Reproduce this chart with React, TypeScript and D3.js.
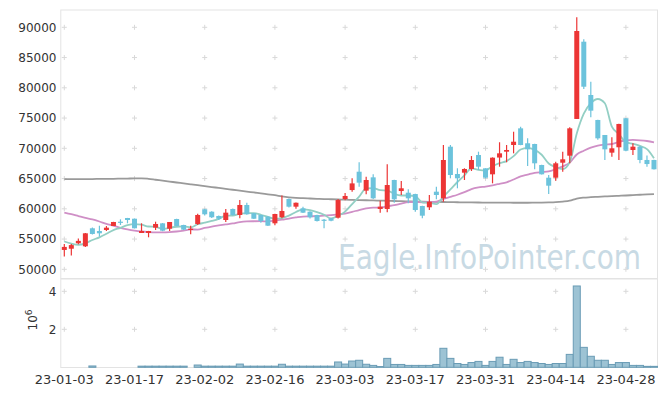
import React from "react";
import * as d3 from "d3";

// ---- data ----
const dates = [
  "2023-01-03","2023-01-04","2023-01-05","2023-01-06","2023-01-09","2023-01-10","2023-01-11","2023-01-12","2023-01-13","2023-01-16",
  "2023-01-17","2023-01-18","2023-01-19","2023-01-20","2023-01-25","2023-01-26","2023-01-27","2023-01-30","2023-01-31","2023-02-01",
  "2023-02-02","2023-02-03","2023-02-06","2023-02-07","2023-02-08","2023-02-09","2023-02-10","2023-02-13","2023-02-14","2023-02-15",
  "2023-02-16","2023-02-17","2023-02-20","2023-02-21","2023-02-22","2023-02-23","2023-02-24","2023-02-27","2023-02-28","2023-03-02",
  "2023-03-03","2023-03-06","2023-03-07","2023-03-08","2023-03-09","2023-03-10","2023-03-13","2023-03-14","2023-03-15","2023-03-16",
  "2023-03-17","2023-03-20","2023-03-21","2023-03-22","2023-03-23","2023-03-24","2023-03-27","2023-03-28","2023-03-29","2023-03-30",
  "2023-03-31","2023-04-03","2023-04-04","2023-04-05","2023-04-06","2023-04-07","2023-04-10","2023-04-11","2023-04-12","2023-04-13",
  "2023-04-14","2023-04-17","2023-04-18","2023-04-19","2023-04-20","2023-04-21","2023-04-24","2023-04-25","2023-04-26","2023-04-27",
  "2023-04-28","2023-05-02","2023-05-03","2023-05-04","2023-05-08",
];

const open = [
  53200,53400,54300,53800,56780,56330,56500,57160,57870,58480,
  58360,56000,56000,56880,57600,56710,58310,57320,56500,57490,
  59920,59520,58810,58150,59970,58980,60630,59260,58980,58700,
  57600,58600,61620,60350,60080,59520,58980,58200,58430,58530,
  61620,63100,66130,63000,65200,59970,59970,64760,62940,62660,
  62440,60460,60250,62830,61735,70265,65750,65970,66580,68890,
  66690,65700,68470,69440,70546,73300,70830,70710,67240,65140,
  65140,67620,68780,74850,87620,78810,74680,72200,69280,70170,
  74960,69720,70270,68070,68070,
];

const high = [
  54200,54200,55100,56000,56900,57200,57150,57850,58260,58500,
  58400,57600,56350,57870,57650,57820,58350,57350,57210,59190,
  60000,59600,58900,59960,60050,61450,61000,59300,59000,58750,
  59200,62200,61700,61050,60350,59600,59000,58300,58500,61600,
  62600,65040,67690,65300,65700,61340,67355,64800,64600,63220,
  62500,60500,62280,63650,70546,70546,66700,66700,68720,69440,
  66700,68500,71000,70546,72740,73580,71650,70750,67300,65590,
  67790,69440,73470,91650,88020,81010,74700,72200,71820,74050,
  75000,70830,70400,68800,68100,
];

const low = [
  52100,52300,54150,53700,55750,55400,56330,57150,57320,57600,
  56750,56000,55290,56500,56300,56330,57100,56500,55790,57320,
  58900,58500,58150,57800,58900,58430,59000,58300,57700,57150,
  57300,58430,60200,60000,59300,58400,57900,56780,57950,58400,
  61400,62830,63650,62400,61600,59360,59420,61000,62280,60900,
  59500,58430,59800,61570,61170,65040,63390,64760,66250,66410,
  65000,64210,66960,67690,69170,70500,67070,66530,65650,62450,
  64650,66130,67520,74840,79800,75120,71400,68070,68610,68070,
  69500,68890,67520,66960,66500,
];

const close = [
  53700,54000,54700,55950,55840,55950,56880,57820,57770,58150,
  56780,56330,56330,57490,56380,57820,57160,56550,56710,58980,
  59090,58600,58360,59360,58980,60630,59090,58360,57980,57210,
  59140,59640,60350,61000,59360,58600,57980,58100,58030,61450,
  62120,64200,64320,64760,61735,60350,63930,61570,63390,61735,
  59800,58860,61170,62280,68066,65587,65040,66580,68066,66960,
  65140,68450,69170,69720,71090,70546,69830,67520,65700,63820,
  67520,68180,73300,89390,80180,76220,71650,69830,70000,74020,
  69600,70270,68070,67400,66530,
];

const volume = [
  0,0,0,0,70000,0,0,0,0,0,
  0,60000,60000,60000,60000,60000,60000,60000,0,120000,
  60000,60000,60000,60000,60000,170000,60000,60000,60000,60000,
  60000,160000,60000,60000,60000,60000,60000,60000,60000,280000,
  170000,330000,370000,160000,100000,40000,470000,150000,150000,100000,
  100000,100000,100000,150000,1000000,470000,200000,150000,250000,310000,
  100000,310000,530000,150000,420000,250000,310000,250000,200000,150000,
  200000,200000,680000,4280000,1050000,580000,370000,370000,150000,250000,
  250000,100000,100000,50000,50000,
];

// first values of the moving averages (need data before the window)
const ma5Head = [54600, 54250, 54050, 54300];
const ma20Head = [
  59360,59100,58800,58500,58250,57900,57500,57200,56850,56600,
  56400,56250,56150,56100,56100,56150,56250,56400,56600,
];
// long moving average (grey)
const maLong = [
  64900,64900,64900,64920,64920,64940,64950,64960,64980,65000,
  65020,65040,64950,64800,64650,64500,64350,64200,64050,63900,
  63750,63600,63450,63300,63150,63000,62850,62700,62550,62400,
  62250,62050,61900,61800,61750,61700,61650,61600,61580,61550,
  61500,61470,61440,61410,61380,61350,61320,61290,61260,61230,
  61200,61180,61160,61140,61120,61100,61080,61060,61050,61040,
  61030,61020,61010,61010,61000,61000,61000,61010,61020,61050,
  61100,61200,61350,61700,61850,61920,61980,62040,62100,62150,
  62200,62260,62320,62380,62430,
];

const priceTicks = [50000,55000,60000,65000,70000,75000,80000,85000,90000];
const volTicks = [2000000, 4000000];
const xTickDates = [
  "2023-01-03","2023-01-17","2023-02-02","2023-02-16","2023-03-03",
  "2023-03-17","2023-03-31","2023-04-14","2023-04-28",
];

const UP = "#ec3535";
const DOWN = "#6cc3dc";

export default function App() {
  const W = 665, H = 396;
  const left = 60.8, right = 657.5;
  const priceTop = 10, priceBottom = 278.5, volTop = 279, volBottom = 367.5;

  const x = d3.scaleBand<string>().domain(dates).range([left, right]).padding(0);
  const bw = x.bandwidth();
  const cx = (i: number) => (x(dates[i]) as number) + bw / 2;
  const y = d3.scaleLinear().domain([50000, 90000]).range([269.3, 27.3]);
  const yv = d3.scaleLinear().domain([0, 4000000]).range([367.3, 291.3]);

  const ma5 = close.map((_, i) => (i < 4 ? ma5Head[i] : d3.mean(close.slice(i - 4, i + 1)) as number));
  const ma20 = close.map((_, i) => (i < 19 ? ma20Head[i] : d3.mean(close.slice(i - 19, i + 1)) as number));

  const line = d3
    .line<number>()
    .x((_, i) => cx(i))
    .y((v) => y(v))
    .curve(d3.curveMonotoneX);

  const crossXs = xTickDates.map((d) => (x(d) as number) + bw / 2);
  const cross = (px: number, py: number, k: string) => (
    <path key={k} d={`M${px - 2.5},${py}H${px + 2.5}M${px},${py - 2.5}V${py + 2.5}`} stroke="#d9d9d9" strokeWidth={1} fill="none" />
  );

  const font = "'DejaVu Sans', sans-serif";
  const wmScale = 0.82;

  return (
    <div style={{ position: "absolute", left: 0, top: 0 }}>
      <svg width={W} height={H} style={{ display: "block" }}>
        <rect x={0} y={0} width={W} height={H} fill="#fff" />
        {/* frames */}
        <rect x={left} y={priceTop} width={right - left} height={priceBottom - priceTop} fill="none" stroke="#e3e3e3" />
        <rect x={left} y={volTop} width={right - left} height={volBottom - volTop} fill="none" stroke="#e3e3e3" />

        {/* grid crosses */}
        {crossXs.map((px, a) => priceTicks.map((t, b) => cross(px, y(t), `p${a}-${b}`)))}
        {crossXs.map((px, a) => volTicks.map((t, b) => cross(px, yv(t), `v${a}-${b}`)))}

        {/* watermark */}
        <text
          transform={`translate(338,269) scale(${wmScale},1)`}
          x={0}
          y={0}
          fontFamily={font}
          fontSize={33}
          fill="#c8dae4"
          textLength={303 / wmScale}
          lengthAdjust="spacingAndGlyphs"
        >
          Eagle.InfoPointer.com
        </text>

        {/* moving averages */}
        <path d={line(maLong) || ""} fill="none" stroke="#9a9a9a" strokeWidth={1.8} />
        <path d={line(ma20) || ""} fill="none" stroke="#cf8fc6" strokeWidth={1.8} />
        <path d={line(ma5) || ""} fill="none" stroke="#93cfc4" strokeWidth={1.8} />

        {/* candles */}
        {dates.map((d, i) => {
          const up = close[i] >= open[i];
          const col = up ? UP : DOWN;
          const top = y(Math.max(open[i], close[i]));
          const bot = y(Math.min(open[i], close[i]));
          const c = cx(i);
          return (
            <g key={d}>
              <line x1={c} x2={c} y1={y(high[i])} y2={y(low[i])} stroke={col} strokeWidth={1.2} />
              <rect x={c - 2.5} y={top} width={5} height={Math.max(1.2, bot - top)} fill={col} />
            </g>
          );
        })}

        {/* volume */}
        {dates.map((d, i) =>
          volume[i] > 0 ? (
            <rect
              key={"vol" + d}
              x={x(d) as number}
              y={yv(volume[i])}
              width={bw}
              height={yv(0) - yv(volume[i])}
              fill="#9dc3d4"
              stroke="#6a9cb5"
              strokeWidth={1}
            />
          ) : null
        )}

        {/* y axis labels price */}
        {priceTicks.map((t) => (
          <text key={"pt" + t} x={56.5} y={y(t)} dy="0.35em" textAnchor="end" fontFamily={font} fontSize={12} fill="#333">
            {t}
          </text>
        ))}
        {volTicks.map((t) => (
          <text key={"vt" + t} x={56.5} y={yv(t)} dy="0.35em" textAnchor="end" fontFamily={font} fontSize={12} fill="#333">
            {t / 1e6}
          </text>
        ))}
        <text transform="translate(37,320) rotate(-90)" textAnchor="middle" fontFamily={font} fontSize={12} fill="#333">
          10<tspan dy={-5} fontSize={9}>6</tspan>
        </text>

        {/* x axis labels */}
        {xTickDates.map((d) => (
          <text key={"xt" + d} x={(x(d) as number) + bw / 2} y={384} textAnchor="middle" fontFamily={font} fontSize={13} fill="#333">
            {d.slice(2)}
          </text>
        ))}
      </svg>
    </div>
  );
}
